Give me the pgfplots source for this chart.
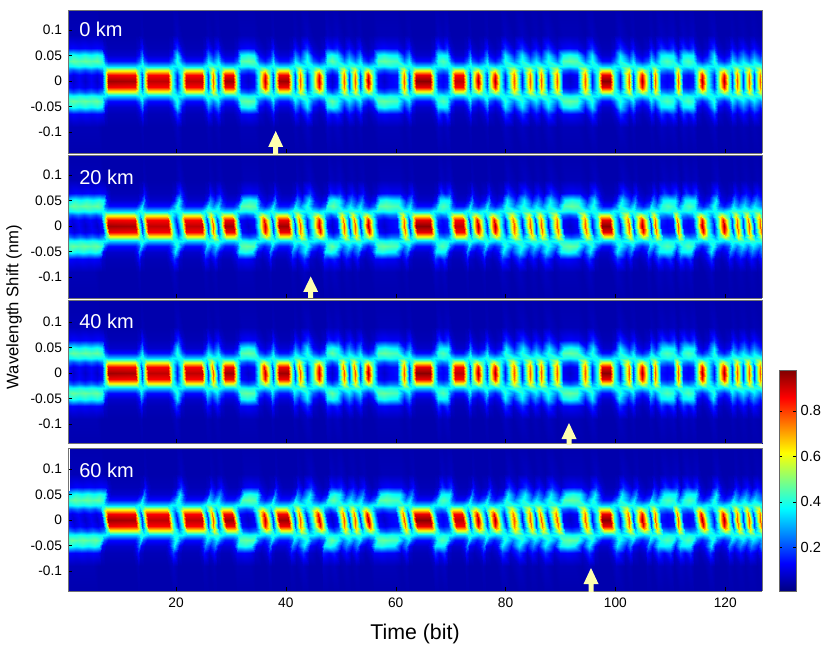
\documentclass[border=0pt]{standalone}
\usepackage{fontspec}
\setmainfont{Liberation Sans}
\usepackage{pgfplots}
\pgfplotsset{compat=1.18}
\usepackage{etoolbox}
% x (bit), then intensity (percent) at |shift| = 0, .012, .022, .03, .04, .05, .065, .09 nm
\def\Cols{%
\C -0.04 16 16 26 38 42 34 11 6;
\C 1.24 8 10 20 38 47 40 13 6;
\C 2.33 12 13 24 40 45 37 12 6;
\C 3.42 8 10 20 38 47 40 13 6;
\C 4.52 12 13 24 40 45 37 12 6;
\C 5.61 8 10 20 38 47 40 13 6;
\C 6.52 14 14 26 38 42 36 12 5;
\C 7.07 45 44 42 37 22 13 8 5;
\C 7.70 95 87 58 32 14 8 6 5;
\C 12.62 94 86 58 32 14 8 6 5;
\C 13.26 45 44 42 37 22 13 8 5;
\C 13.72 18 19 32 41 36 26 14 6;
\C 14.17 45 44 42 37 22 13 8 5;
\C 14.81 92 86 58 32 14 8 6 5;
\C 18.63 92 86 58 32 14 8 6 5;
\C 19.27 45 44 42 37 22 13 8 5;
\C 20.18 14 16 28 38 41 36 18 7;
\C 21.09 45 44 42 37 22 13 8 5;
\C 21.73 92 86 58 32 14 8 6 5;
\C 24.64 92 86 58 32 14 8 6 5;
\C 25.28 45 44 42 37 22 13 8 5;
\C 25.74 18 19 32 41 36 26 14 6;
\C 26.65 78 74 60 42 25 15 8 5;
\C 27.56 18 19 32 41 36 26 14 6;
\C 28.20 45 44 42 37 22 13 8 5;
\C 28.93 95 87 58 33 15 9 6 5;
\C 30.38 95 87 58 33 15 9 6 5;
\C 31.11 45 44 42 37 22 13 8 5;
\C 31.83 12 13 24 40 45 37 12 6;
\C 33.02 8 10 20 38 47 40 13 6;
\C 34.21 12 13 24 40 45 37 12 6;
\C 35.12 45 44 42 37 22 13 8 5;
\C 36.12 92 86 58 33 15 9 6 5;
\C 37.12 45 44 42 37 22 13 8 5;
\C 37.58 18 19 32 41 36 26 14 6;
\C 38.04 45 44 42 37 22 13 8 5;
\C 38.76 95 87 58 33 15 9 6 5;
\C 40.40 95 87 58 33 15 9 6 5;
\C 41.13 45 44 42 37 22 13 8 5;
\C 41.58 18 19 32 41 36 26 14 6;
\C 42.50 78 74 60 42 25 15 8 5;
\C 43.86 14 16 28 38 41 36 18 7;
\C 44.95 45 44 42 37 22 13 8 5;
\C 46.05 92 86 58 33 15 9 6 5;
\C 46.96 45 44 42 37 22 13 8 5;
\C 47.50 14 16 28 38 41 36 16 7;
\C 48.42 8 10 20 38 47 40 13 6;
\C 49.33 14 16 28 38 41 36 16 7;
\C 50.51 78 74 60 42 25 15 8 5;
\C 51.51 18 19 32 41 36 26 14 6;
\C 52.51 78 74 60 42 25 15 8 5;
\C 53.51 18 19 32 41 36 26 14 6;
\C 54.06 45 44 42 37 22 13 8 5;
\C 54.97 95 87 58 33 15 9 6 5;
\C 55.88 45 44 42 37 22 13 8 5;
\C 56.79 12 13 24 40 45 37 12 6;
\C 57.89 8 10 20 38 47 40 13 6;
\C 58.98 12 13 24 40 45 37 12 6;
\C 60.25 14 14 24 38 44 36 12 6;
\C 61.53 78 74 60 42 25 15 8 5;
\C 62.44 18 19 32 41 36 26 14 6;
\C 62.99 45 44 42 37 22 13 8 5;
\C 63.72 97 88 58 32 14 8 6 5;
\C 66.27 97 88 58 32 14 8 6 5;
\C 66.99 45 44 42 37 22 13 8 5;
\C 67.72 14 16 28 38 41 36 18 7;
\C 68.54 12 13 24 40 45 37 12 6;
\C 69.36 14 16 28 38 41 36 18 7;
\C 70.09 45 44 42 37 22 13 8 5;
\C 70.82 92 86 58 32 14 8 6 5;
\C 72.28 92 86 58 32 14 8 6 5;
\C 73.00 45 44 42 37 22 13 8 5;
\C 73.46 18 19 32 41 36 26 14 6;
\C 73.92 45 44 42 37 22 13 8 5;
\C 74.92 95 87 58 33 15 9 6 5;
\C 75.92 45 44 42 37 22 13 8 5;
\C 76.56 18 19 32 41 36 26 14 6;
\C 77.01 45 44 42 37 22 13 8 5;
\C 78.01 95 87 58 33 15 9 6 5;
\C 79.02 45 44 42 37 22 13 8 5;
\C 79.93 14 16 28 38 41 36 18 7;
\C 81.48 78 74 60 42 25 15 8 5;
\C 83.03 14 16 28 38 41 36 18 7;
\C 84.49 78 74 60 42 25 15 8 5;
\C 85.48 18 19 32 41 36 26 14 6;
\C 86.48 78 74 60 42 25 15 8 5;
\C 87.76 14 16 28 38 41 36 18 7;
\C 89.40 78 74 60 42 25 15 8 5;
\C 90.50 12 13 24 40 45 37 12 6;
\C 91.77 8 10 20 38 47 40 13 6;
\C 93.05 12 13 24 40 45 37 12 6;
\C 94.51 78 74 60 42 25 15 8 5;
\C 95.78 14 16 28 38 41 36 18 7;
\C 96.87 45 44 42 37 22 13 8 5;
\C 97.60 97 88 58 32 14 8 6 5;
\C 99.06 97 88 58 32 14 8 6 5;
\C 99.78 45 44 42 37 22 13 8 5;
\C 100.78 14 16 28 38 41 36 18 7;
\C 102.42 78 74 60 42 25 15 8 5;
\C 103.24 18 19 32 41 36 26 14 6;
\C 103.79 45 44 42 37 22 13 8 5;
\C 104.88 95 87 58 33 15 9 6 5;
\C 105.97 45 44 42 37 22 13 8 5;
\C 106.43 18 19 32 41 36 26 14 6;
\C 107.25 78 74 60 42 25 15 8 5;
\C 108.35 14 16 28 38 41 36 18 7;
\C 109.44 12 13 24 40 45 37 12 6;
\C 110.53 14 16 28 38 41 36 18 7;
\C 111.35 78 74 60 42 25 15 8 5;
\C 112.35 14 16 28 38 41 36 18 7;
\C 113.26 12 13 24 40 45 37 12 6;
\C 114.17 14 16 28 38 41 36 18 7;
\C 114.88 45 44 42 37 22 13 8 5;
\C 115.79 95 87 58 33 15 9 6 5;
\C 116.70 45 44 42 37 22 13 8 5;
\C 117.90 14 16 28 38 41 36 18 7;
\C 118.72 45 44 42 37 22 13 8 5;
\C 119.72 95 87 58 33 15 9 6 5;
\C 120.72 45 44 42 37 22 13 8 5;
\C 121.27 18 19 32 41 36 26 14 6;
\C 122.18 78 74 60 42 25 15 8 5;
\C 123.27 18 19 32 41 36 26 14 6;
\C 124.28 78 74 60 42 25 15 8 5;
\C 125.19 18 19 32 41 36 26 14 6;
\C 126.38 78 74 60 42 25 15 8 5;
\C 127.10 18 19 32 41 36 26 14 6;
}
\def\E#1#2{\pgfmathsetmacro\X{#1+\DX*\SC}\pgfmathsetmacro\Z{(#2)/100}\eappto\pts{(\X,\Y,\Z) }}
\newcommand\rowpts[3]{\def\Y{#1}\def\DX{#2}%
 \def\C##1 ##2 ##3 ##4 ##5 ##6 ##7 ##8 ##9;{\E{##1}{\ifcase#3 5\or ##2\or ##3\or ##4\or ##5\or ##6\or ##7\or ##8\or ##9\fi}}%
 \Cols}
% #1 = strength of the per-row time skew of this span
\newcommand\buildpts[1]{\def\SC{#1}\def\pts{}%
 \rowpts{-0.15}{-0.65}{0}\rowpts{-0.09}{-0.65}{8}\rowpts{-0.065}{-0.65}{7}\rowpts{-0.05}{-0.5}{6}%
 \rowpts{-0.04}{-0.1}{5}\rowpts{-0.03}{0.25}{4}\rowpts{-0.022}{0.3}{3}\rowpts{-0.012}{0.12}{2}%
 \rowpts{0}{0}{1}%
 \rowpts{0.012}{-0.12}{2}\rowpts{0.022}{-0.3}{3}\rowpts{0.03}{-0.25}{4}\rowpts{0.04}{0.1}{5}%
 \rowpts{0.05}{0.5}{6}\rowpts{0.065}{0.65}{7}\rowpts{0.09}{0.65}{8}\rowpts{0.15}{0.65}{0}}
\newcommand\spectrum{\edef\tmp{\noexpand\addplot3[surf,shader=interp,mesh/rows=17] coordinates {\pts};}\tmp}
\pgfplotsset{pan/.style={scale only axis,width=520.5pt,height=107.25pt,anchor=south west,
 xmin=0.33,xmax=126.7,view={0}{90},colormap/jet,point meta min=0.007,point meta max=0.98,
 xtick={20,40,...,120},ytick={-0.1,-0.05,0,0.05,0.1},yticklabels={-0.1,-0.05,0,0.05,0.1},
 tick align=inside,major tick length=3pt,tick pos=left,
 tick style={black,line width=0.3pt},axis line style={draw=black!55,line width=0.3pt},
 tick label style={font=\fontsize{10.3}{12}\selectfont},
 yticklabel style={xshift=-1pt},xticklabel style={yshift=-2pt},ztick=\empty}}
\newcommand\arrowup[4]{\fill[arrowc] (#1,#2)--(#1+7.5,#3)--(#1+2.5,#3)--(#1+2.5,#4)--(#1-2.5,#4)--(#1-2.5,#3)--(#1-7.5,#3)--cycle;}
\definecolor{arrowc}{RGB}{255,255,176}
\begin{document}
\begin{tikzpicture}[x=0.75pt,y=0.75pt]
\useasboundingbox (0,0) rectangle (830,650);
\buildpts{0}
\begin{axis}[pan,at={(51pt,372.75pt)},ymin=-0.141,ymax=0.139,xticklabels={}]
\spectrum
\end{axis}
\buildpts{0.8}
\begin{axis}[pan,at={(51pt,264pt)},ymin=-0.141,ymax=0.139,xticklabels={}]
\spectrum
\end{axis}
\buildpts{0.15}
\begin{axis}[pan,at={(51pt,155.25pt)},ymin=-0.137,ymax=0.143,xticklabels={}]
\spectrum
\end{axis}
\buildpts{1}
\begin{axis}[pan,at={(51pt,44.25pt)},ymin=-0.139,ymax=0.141,
 xticklabels={20,40,60,80,100,120},
 xlabel={Time (bit)},xlabel style={font=\fontsize{16}{18}\selectfont,yshift=-5pt},
 colorbar,colorbar style={scale only axis,at={(1.0245,0)},anchor=south west,width=12.75pt,height=165.75pt,
 ytick={0.2,0.4,0.6,0.8},yticklabels={0.2,0.4,0.6,0.8},major tick length=2pt,
 tick align=inside,axis line style={draw=black!60},
 tick label style={font=\fontsize{11}{13}\selectfont}}]
\spectrum
\end{axis}
\node[rotate=90,font=\fontsize{12.5}{15}\selectfont] at (14,343) {Wavelength Shift (nm)};
\foreach \yy/\tt in {621/0 km,473/20 km,329/40 km,180/60 km}
 \node[anchor=west,text=white,font=\fontsize{15}{17}\selectfont,inner sep=0pt] at (79,\yy) {\tt};
\arrowup{275.7}{519}{503}{495}
\arrowup{310.7}{373.5}{358}{352}
\arrowup{569}{227}{211}{205}
\arrowup{591}{82}{66}{58}
\end{tikzpicture}
\end{document}
